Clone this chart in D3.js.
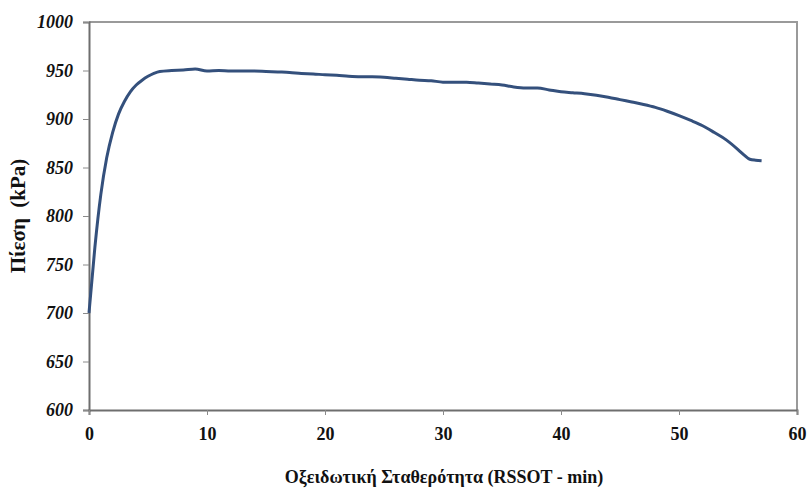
<!DOCTYPE html>
<html>
<head>
<meta charset="utf-8">
<script src="https://cdn.jsdelivr.net/npm/d3@7"></script>
<style>
    body { margin: 0; background: #fff; }
    svg { display: block; }
    text { font-family: "Liberation Serif", "Times New Roman", serif; }
</style>
</head>
<body>
<svg id="grafico" width="808" height="490"></svg>
<script>
// χρόνος (min)
const tiempos = [0, 0.5, 1, 1.5, 2, 2.5, 3, 3.5, 4, 4.5, 5, 5.5, 6, 7, 8, 9, 10, 11, 12, 13, 14, 15, 16, 17, 18, 19, 20,
    21, 22, 23, 24, 25, 26, 27, 28, 29, 30, 31, 32, 33, 34, 35, 36, 37, 38, 39, 40, 41, 42, 43, 44, 45, 46, 47, 48,
    49, 50, 51, 52, 53, 54, 55, 55.5, 56, 56.5, 57];

// πίεση (kPa)
const presiones = [700, 768, 822, 860, 886, 905, 918, 928, 935, 940, 944, 947, 949, 950, 950.5, 951.5, 949.5, 950, 949.5, 949.5, 949.5, 949, 948.5, 948, 947, 946.5, 945.5,
    945, 944, 943.5, 943.5, 943, 942, 941, 940, 939.5, 938, 938, 938, 937, 936, 935, 933, 932, 932, 930, 928, 927, 926, 924.5, 922.5, 920, 917.5, 915, 912,
    908, 903.5, 898.5, 893, 886, 878.5, 868.5, 863, 858.5, 857.5, 857];

const ticksY = [600, 650, 700, 750, 800, 850, 900, 950, 1000];
const ticksX = [0, 10, 20, 30, 40, 50, 60];

const svg = d3.select("#grafico");

const margin = { top: 22, right: 11, bottom: 80, left: 89 };
const width = 808;
const height = 490;
const fuente = "'Liberation Serif', 'Times New Roman', serif";

const x = d3.scaleLinear()
    .domain([0, 60])
    .range([margin.left, width - margin.right]);

const y = d3.scaleLinear()
    .domain([600, 1000])
    .range([height - margin.bottom, margin.top]);

// marco superior y derecho
svg.append("path")
    .attr("d", `M${x(0)},${y(1000)}H${x(60)}V${y(600)}`)
    .attr("fill", "none")
    .attr("stroke", "#9a9a9a")
    .attr("stroke-width", 2);

const ejeY = svg.append("g")
    .attr("transform", `translate(${margin.left},0)`)
    .call(d3.axisLeft(y).tickValues(ticksY).tickFormat(d3.format("d")).tickSize(6).tickPadding(10));

const ejeX = svg.append("g")
    .attr("transform", `translate(0,${height - margin.bottom})`)
    .call(d3.axisBottom(x).tickValues(ticksX).tickFormat(d3.format("d")).tickSize(5).tickPadding(12));

[ejeY, ejeX].forEach(eje => {
    eje.attr("font-family", fuente);
    eje.select(".domain").attr("stroke", "#6e6e6e").attr("stroke-width", 2);
    eje.selectAll(".tick line").attr("stroke", "#8a8a8a");
    eje.selectAll("text")
        .attr("fill", "#111")
        .style("font-family", fuente)
        .style("font-weight", "bold")
        .style("font-size", "18px");
});

ejeY.selectAll("text").style("font-style", "italic");

const linea = d3.line()
    .x((d, i) => x(tiempos[i]))
    .y(d => y(d))
    .curve(d3.curveMonotoneX);

svg.append("path")
    .datum(presiones)
    .attr("d", linea)
    .attr("fill", "none")
    .attr("stroke", "#34507c")
    .attr("stroke-width", 3)
    .attr("stroke-linejoin", "round");

svg.append("text")
    .attr("x", 444)
    .attr("y", 483)
    .attr("text-anchor", "middle")
    .style("font-family", fuente)
    .style("font-weight", "bold")
    .style("font-size", "18px")
    .attr("fill", "#111")
    .text("Οξειδωτική Σταθερότητα (RSSOT - min)");

svg.append("text")
    .attr("transform", "rotate(-90)")
    .attr("x", -216)
    .attr("y", 25)
    .attr("text-anchor", "middle")
    .style("font-family", fuente)
    .style("font-weight", "bold")
    .style("font-size", "21px")
    .attr("fill", "#111")
    .style("white-space", "pre")
    .text("Πίεση  (kPa)");
</script>
</body>
</html>
